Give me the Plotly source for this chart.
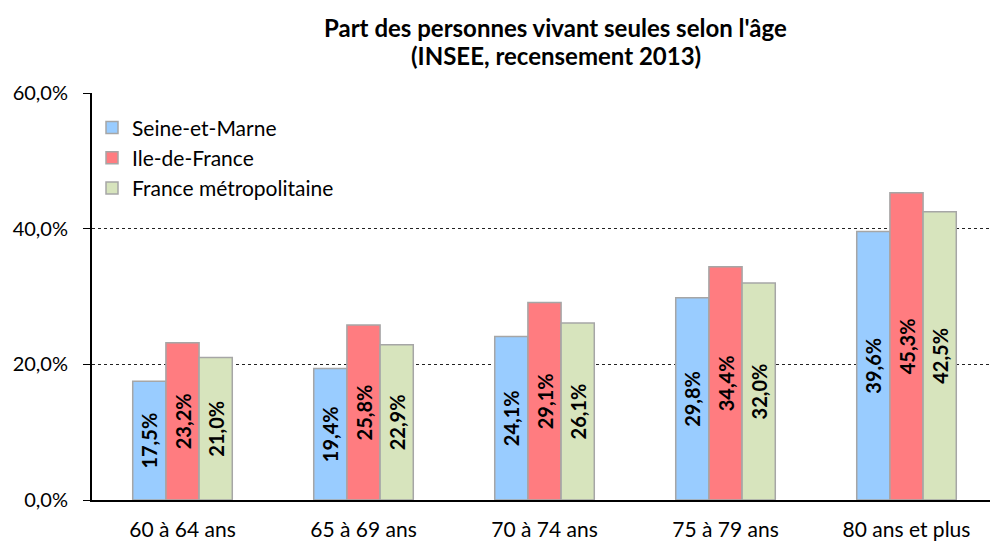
import plotly.graph_objects as go

categories = ["60 à 64 ans", "65 à 69 ans", "70 à 74 ans", "75 à 79 ans", "80 ans et plus"]
seine_et_marne = [0.175, 0.194, 0.241, 0.298, 0.396]
ile_de_france = [0.232, 0.258, 0.291, 0.344, 0.453]
france_metro = [0.210, 0.229, 0.261, 0.320, 0.425]
series_names = ["Seine-et-Marne", "Ile-de-France", "France métropolitaine"]
y_ticks = [0, 0.2, 0.4, 0.6]
title_lines = ["Part des personnes vivant seules selon l'âge", "(INSEE, recensement 2013)"]

colors = ["#99CCFF", "#FF7C80", "#D7E4BD"]
FONT = "Lato"

fig = go.Figure()
for name, vals, col in zip(series_names, [seine_et_marne, ile_de_france, france_metro], colors):
    fig.add_trace(go.Bar(
        x=categories, y=vals, name=name,
        marker=dict(color=col, line=dict(color="#A6A6A6", width=1.5)),
        text=[f"{v*100:.1f}%".replace(".", ",") for v in vals],
        textposition="inside", insidetextanchor="middle", textangle=-90,
        textfont=dict(family=FONT, size=20, color="black", weight="bold"),
        cliponaxis=False,
    ))

for line, ypos in zip(title_lines, [1.161, 1.093]):
    fig.add_annotation(text=f"<b>{line}</b>", xref="paper", yref="paper",
                       x=0.5127, y=ypos, xanchor="center", yanchor="middle",
                       showarrow=False, font=dict(family=FONT, size=24, color="black"))

fig.update_layout(
    width=990, height=534,
    margin=dict(l=84, r=1, t=85, b=39),
    paper_bgcolor="white", plot_bgcolor="white",
    barmode="group", bargap=0.45, bargroupgap=0,
    separators=", ",
    font=dict(family=FONT, size=20, color="black"),
    legend=dict(x=0.0, y=0.965, xanchor="left", yanchor="top",
                font=dict(family=FONT, size=21), bgcolor="rgba(0,0,0,0)",
                tracegroupgap=0, itemwidth=30),
    uniformtext=dict(minsize=10, mode="show"),
)
fig.update_yaxes(range=[0, 0.6], tickvals=y_ticks, tickformat=".1%",
                 showgrid=True, gridcolor="#222222", griddash="dot", gridwidth=1,
                 showline=True, linecolor="black", linewidth=2,
                 ticks="outside", ticklen=7, tickcolor="black",
                 ticklabelstandoff=11,
                 zeroline=False, tickfont=dict(size=20))
fig.update_xaxes(showline=True, linecolor="black", linewidth=2, ticks="",
                 ticklabelstandoff=10,
                 tickfont=dict(size=21))

fig.write_html("out.html")
